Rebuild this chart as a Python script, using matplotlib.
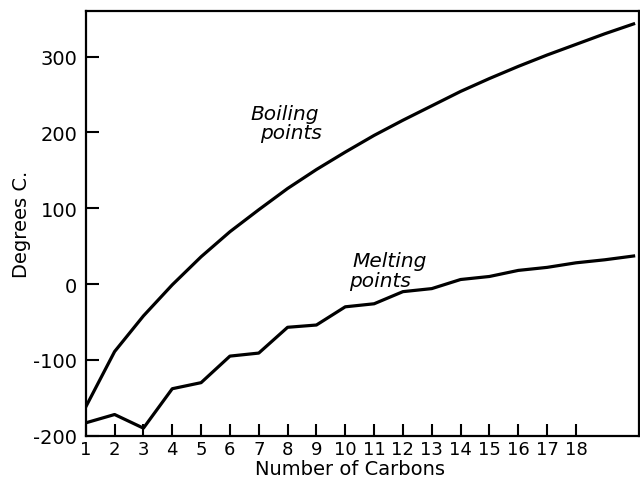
# Alkane boiling and melting points vs number of carbons

import numpy as np
import matplotlib
matplotlib.use("Agg")
import matplotlib.pyplot as plt
from matplotlib import font_manager

plt.rcParams['font.family'] = ['DejaVu Sans']

names = {f.name for f in font_manager.fontManager.ttflist}
narrow = 'DejaVu Sans Condensed' if 'DejaVu Sans Condensed' in names else 'DejaVu Sans'

carbons = list(range(1, 21))
boiling = [-162, -89, -42, -1, 36, 69, 98, 126, 151, 174,
           196, 216, 235, 254, 271, 287, 302, 316, 330, 343]
melting = [-183, -172, -190, -138, -130, -95, -91, -57, -54, -30,
           -26, -10, -6, 6, 10, 18, 22, 28, 32, 37]

x_ticks = list(range(1, 19))
y_ticks = [-200, -100, 0, 100, 200, 300]

fig = plt.figure(figsize=(6.4, 4.81), dpi=100)
ax = fig.add_axes([0.134, 0.092, 0.865, 0.883])

ax.plot(carbons, boiling, color="black", linewidth=2.3, solid_joinstyle="round")
ax.plot(carbons, melting, color="black", linewidth=2.3, solid_joinstyle="round")

ax.set_xlim(1, 20.2)
ax.set_ylim(-200, 360)
ax.set_xticks(x_ticks)
ax.set_xticklabels([str(i) for i in x_ticks], fontsize=13, family=narrow)
ax.set_yticks(y_ticks)
ax.set_yticklabels([str(v) for v in y_ticks], fontsize=14)
ax.tick_params(direction="in", length=9, width=1.5, pad=3)
ax.tick_params(axis="y", pad=6)
for s in ax.spines.values():
    s.set_linewidth(1.6)

ax.set_xlabel("Number of Carbons", fontsize=14)
ax.xaxis.set_label_coords(0.477, -0.055)
ax.set_ylabel("Degrees C.", fontsize=14, labelpad=2)

ax.text(6.7, 218, "Boiling", fontsize=14.5, style="italic")
ax.text(7.05, 192, "points", fontsize=14.5, style="italic")
ax.text(10.24, 24, "Melting", fontsize=14.5, style="italic")
ax.text(10.13, -2, "points", fontsize=14.5, style="italic")

fig.savefig("out.png", dpi=100)
